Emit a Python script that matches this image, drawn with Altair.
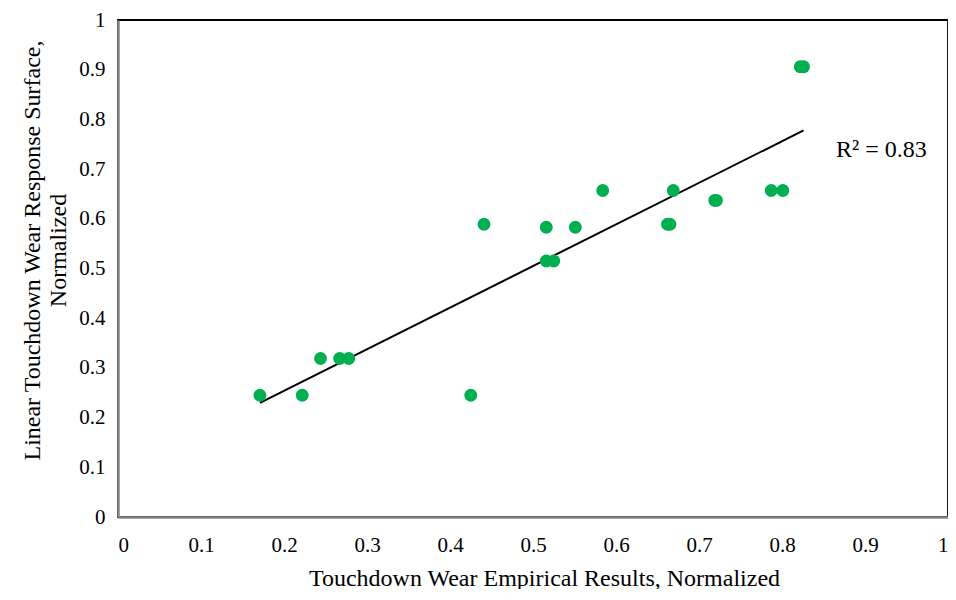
import altair as alt
import pandas as pd

# Data
x_empirical = [0.171, 0.222, 0.244, 0.267, 0.278, 0.425, 0.441, 0.516, 0.551,
               0.516, 0.525, 0.584, 0.662, 0.665, 0.669, 0.719, 0.721, 0.787,
               0.801, 0.822, 0.826]
y_response = [0.245, 0.245, 0.319, 0.319, 0.319, 0.245, 0.589, 0.583, 0.583,
              0.515, 0.515, 0.657, 0.589, 0.589, 0.657, 0.637, 0.637, 0.657,
              0.657, 0.906, 0.906]

tick_values = [0, 0.1, 0.2, 0.3, 0.4, 0.5, 0.6, 0.7, 0.8, 0.9, 1]

r2_label = ["R\u00b2 = 0.83"]
r2_x = [0.865]
r2_y = [0.7385]

x_title = "Touchdown Wear Empirical Results, Normalized"
y_title = ["Linear Touchdown Wear Response Surface,", "Normalized"]

FONT = "Liberation Serif"
GREEN = "#00B050"

df = pd.DataFrame({"x": x_empirical, "y": y_response})
df_r2 = pd.DataFrame({"label": r2_label, "x": r2_x, "y": r2_y})

x_scale = alt.Scale(domain=[0, 1], nice=False, zero=True)
y_scale = alt.Scale(domain=[0, 1], nice=False, zero=True)

x_axis = alt.Axis(values=tick_values, format="~g", title=x_title, grid=False,
                  ticks=False, labelPadding=17, titleX=426, titleY=61,
                  titleBaseline="middle", titleAlign="center",
                  domainColor="#868686", domainWidth=2.5)
y_axis = alt.Axis(values=tick_values, format="~g", title=y_title, grid=False,
                  ticks=False, labelPadding=13, titleX=-86, titleY=230,
                  titleBaseline="middle", titleAlign="center", titleAngle=-90,
                  domainColor="#868686", domainWidth=2.5, titleLineHeight=26)

points = alt.Chart(df).mark_circle(size=165, color=GREEN, opacity=1).encode(
    x=alt.X("x:Q", scale=x_scale, axis=x_axis),
    y=alt.Y("y:Q", scale=y_scale, axis=y_axis),
)

trend = alt.Chart(df).transform_regression("x", "y").mark_line(
    color="black", strokeWidth=2
).encode(
    x=alt.X("x:Q", scale=x_scale),
    y=alt.Y("y:Q", scale=y_scale),
)

r2 = alt.Chart(df_r2).mark_text(
    align="left", baseline="middle", font=FONT, fontSize=24, color="black"
).encode(
    x=alt.X("x:Q", scale=x_scale),
    y=alt.Y("y:Q", scale=y_scale),
    text="label:N",
)

chart = alt.layer(trend, points, r2).properties(
    width=830, height=497,
    autosize=alt.AutoSizeParams(type="none"),
    padding={"left": 110, "top": 12, "right": 0, "bottom": 72},
).configure_view(
    stroke="black", strokeWidth=1.8
).configure_axis(
    labelFont=FONT, titleFont=FONT, labelFontSize=21, titleFontSize=24,
    labelColor="black", titleColor="black", titleFontWeight="normal",
)

chart.save("out.html", embed_options={"renderer": "svg", "actions": False})
